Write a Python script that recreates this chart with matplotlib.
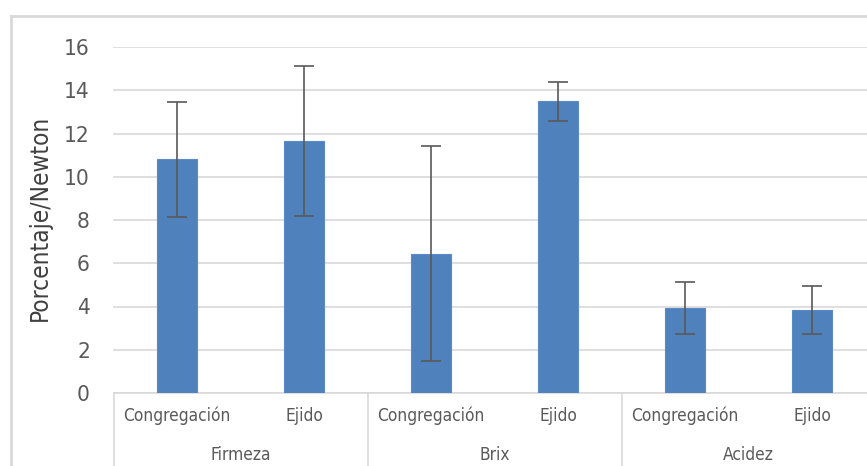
import numpy as np
import matplotlib.pyplot as plt
import matplotlib.transforms as mtransforms
from matplotlib.lines import Line2D
from matplotlib import font_manager

# buscar una fuente estrecha parecida a Arial Narrow
nombres = {(f.name, f.stretch) for f in font_manager.fontManager.ttflist}
estrecha = None
for n, st in nombres:
    if n == 'Liberation Sans Narrow':
        estrecha = ('Liberation Sans Narrow', 'normal')
if estrecha is None:
    for n, st in nombres:
        if n == 'DejaVu Sans' and st in ('condensed', 'semi-condensed', 87.5, 75):
            estrecha = ('DejaVu Sans', 'condensed')
if estrecha is None:
    estrecha = ('Liberation Sans', 'normal')
    tam = {'tick': 15, 'label': 17.5, 'cat': 12.5}
else:
    tam = {'tick': 16.2, 'label': 17.5, 'cat': 12.4}

plt.rcParams['font.family'] = [estrecha[0], 'DejaVu Sans']
plt.rcParams['font.stretch'] = estrecha[1]

grupos = ['Firmeza', 'Brix', 'Acidez']
origen = ['Congregación', 'Ejido']
medias = [10.8, 11.65, 6.45, 13.5, 3.95, 3.85]
errores = [2.65, 3.45, 4.95, 0.9, 1.2, 1.12]

x = np.arange(len(medias))
azul = '#4f81bd'
gris = '#595959'

fig = plt.figure(figsize=(8.67, 4.66), dpi=100)
ax = fig.add_axes([113.5 / 867, 1 - 393 / 466, 762 / 867, 346 / 466])

ax.bar(x, medias, width=0.31, color=azul, edgecolor='#5b8ac6', linewidth=0.8, zorder=3)
ax.errorbar(x, medias, yerr=errores, fmt='none', ecolor=gris, elinewidth=1.2,
            capsize=7, capthick=1.2, zorder=4)

ax.set_xlim(-0.5, len(medias) - 0.5)
ax.set_ylim(0, 16)
ax.set_yticks(range(0, 17, 2))
ax.tick_params(axis='y', length=0, pad=17, labelsize=tam['tick'], labelcolor='#595959')
ax.set_xticks([])
ax.grid(axis='y', color='#d9d9d9', linewidth=1.2, zorder=0)
for s in ['top', 'right', 'left']:
    ax.spines[s].set_visible(False)
ax.spines['bottom'].set_color('#d9d9d9')
ax.spines['bottom'].set_linewidth(1.2)
ax.set_ylabel('Porcentaje/Newton', fontsize=tam['label'], color='#404040')
ax.yaxis.set_label_coords(-(113.5 - 40) / 762, (393 - 218) / 346)
ax.yaxis.label.set_va('center')

# etiquetas de categorias en dos niveles
trans = mtransforms.blended_transform_factory(ax.transData, ax.transAxes)
for i, xi in enumerate(x):
    ax.text(xi, -0.066, origen[i % 2], transform=trans, ha='center', va='center',
            fontsize=tam['cat'], color='#595959')
for g, nombre in enumerate(grupos):
    ax.text(2 * g + 0.5, -0.179, nombre, transform=trans, ha='center', va='center',
            fontsize=tam['cat'], color='#595959')
for sep in [-0.5, 1.5, 3.5]:
    ax.add_line(Line2D([sep, sep], [0, -0.3], transform=trans, color='#d9d9d9',
                       linewidth=1.2, clip_on=False))

# borde del area del grafico
fig.add_artist(Line2D([11 / 867, 1], [1 - 16 / 466, 1 - 16 / 466], color='#d9d9d9', linewidth=2))
fig.add_artist(Line2D([11 / 867, 11 / 867], [0, 1 - 16 / 466], color='#d9d9d9', linewidth=2))

fig.savefig('out.png', dpi=100, facecolor='white')
